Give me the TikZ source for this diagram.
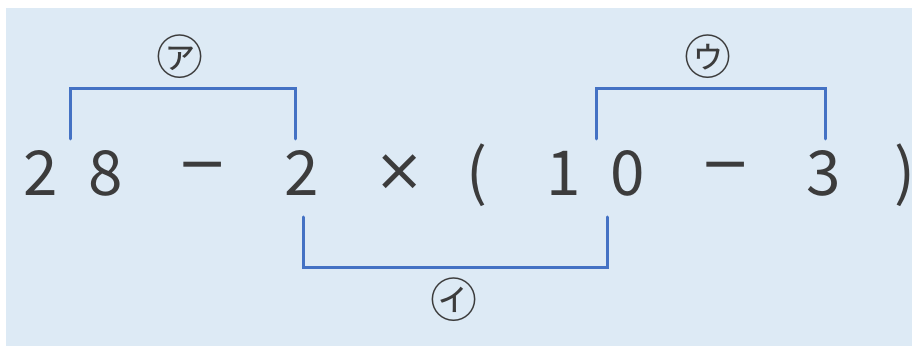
\documentclass[tikz,border=0pt]{standalone}
\usepackage{fontspec}
\newfontfamily\jpfont{Noto Sans CJK JP}
\newfontfamily\opfont{DejaVu Sans}
\usetikzlibrary{positioning}
\definecolor{bgblue}{HTML}{DDEAF5}
\definecolor{lineblue}{HTML}{4472C4}
\definecolor{textgray}{HTML}{3C3C3C}

\begin{document}
\begin{tikzpicture}[
                            x=1pt, y=-1pt,
                            node distance=50pt,
                            >=latex,
                            sym/.style={text=textgray, inner sep=0pt, font=\jpfont\fontsize{62}{62}\selectfont},
                            opsym/.style={text=textgray, inner sep=0pt, font=\opfont\fontsize{60}{60}\selectfont},
                            lbl/.style={text=textgray, inner sep=0pt, font=\jpfont\fontsize{47}{47}\selectfont},
                            brk/.style={draw=lineblue, line width=3pt, line cap=round}
                            ]

                            \useasboundingbox (0,0) rectangle (912,347);
                            \fill[bgblue] (6,8) rectangle (912,346);

                            \node [sym] (num1) at (40.5,173) {2};
                            \node [sym] (num2) at (105.5,173) {8};
                            \node [opsym] (op1) at (203,173) {−};
                            \node [sym] (num3) at (302,173) {2};
                            \node [opsym] (op2) at (399.5,173) {×};
                            \node [sym] (par1) at (477,175) {(};
                            \node [sym] (num4) at (563.5,173) {1};
                            \node [sym] (num5) at (628,173) {0};
                            \node [opsym] (op3) at (726,173) {−};
                            \node [sym] (num6) at (823.5,173) {3};
                            \node [sym] (par2) at (905,175) {)};

                            \node [coordinate] (node1) at (70,139) {};
                            \node [coordinate, above of = node1] (node2) {};
                            \node [coordinate] (node4) at (295,139) {};
                            \node [coordinate, above of = node4] (node3) {};

                            \node [coordinate] (node5) at (303,217) {};
                            \node [coordinate, below of = node5] (node6) {};
                            \node [coordinate] (node8) at (607,217) {};
                            \node [coordinate, below of = node8] (node7) {};

                            \node [coordinate] (node9) at (596,139) {};
                            \node [coordinate, above of = node9] (node10) {};
                            \node [coordinate] (node12) at (825,139) {};
                            \node [coordinate, above of = node12] (node11) {};

                            \node [lbl] (labA) at (180,57) {㋐};
                            \node [lbl] (labI) at (454,300) {㋑};
                            \node [lbl] (labU) at (708,57) {㋒};

                            \draw[brk] (node1) -- (node2) -- (node3) -- (node4);
                            \draw[brk] (node5) -- (node6) -- (node7) -- (node8);
                            \draw[brk] (node9) -- (node10) -- (node11) -- (node12);

                        \end{tikzpicture}
\end{document}
